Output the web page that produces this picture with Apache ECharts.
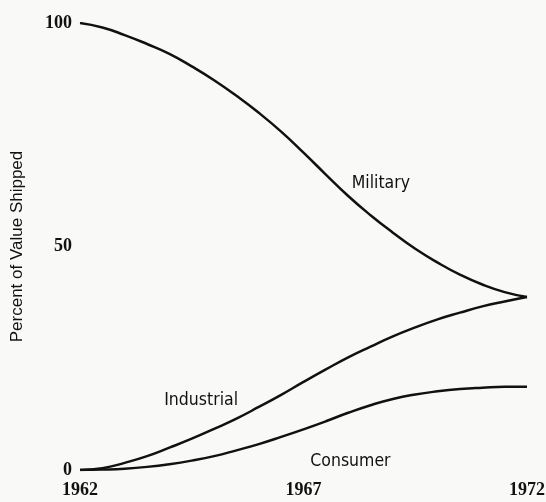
<!DOCTYPE html>
<html>
<head>
<meta charset="utf-8">
<script src="https://cdn.jsdelivr.net/npm/echarts@6/dist/echarts.min.js"></script>
<style>html,body{margin:0;padding:0;background:#f9f9f8;}#c{width:546px;height:502px;}</style>
</head>
<body>
<div id="c"></div>
<script>
const years = [1962, 1962.5, 1963, 1963.5, 1964, 1964.5, 1965, 1965.5, 1966, 1966.5, 1967,
               1967.5, 1968, 1968.5, 1969, 1969.5, 1970, 1970.5, 1971, 1971.5, 1972];
const military = [100, 99.0, 97.3, 95.3, 93.1, 90.3, 87.2, 83.7, 79.9, 75.7, 71.0,
                  66.1, 61.3, 57.0, 53.1, 49.5, 46.4, 43.7, 41.5, 39.8, 38.7];
const industrial = [0, 0.4, 1.6, 3.1, 5.0, 7.0, 9.2, 11.5, 14.1, 16.8, 19.7,
                    22.5, 25.2, 27.6, 29.9, 31.9, 33.7, 35.2, 36.6, 37.7, 38.7];
const consumer = [0, 0.1, 0.3, 0.7, 1.3, 2.1, 3.1, 4.4, 5.8, 7.4, 9.1,
                  10.9, 12.8, 14.5, 15.9, 16.9, 17.6, 18.1, 18.4, 18.6, 18.6];
const xTicks = [1962, 1967, 1972];
const yTicks = [0, 50, 100];
const seriesNames = ['Military', 'Industrial', 'Consumer'];
const labelPos = [[1968.73, 64.2], [1964.71, 15.5], [1968.05, 0]];
const labelOffsets = [[0, 0], [0, 0], [0, -9]];
const yTitle = 'Percent of Value Shipped';

const values = [military, industrial, consumer];
const chart = echarts.init(document.getElementById('c'), null, {renderer: 'canvas'});
const tickFont = {fontFamily: 'Liberation Serif, serif', fontWeight: 'bold', fontSize: 18, color: '#111'};
const sansFont = 'Liberation Sans Narrow, DejaVu Sans Condensed, sans-serif';
chart.setOption({
  backgroundColor: '#f9f9f8',
  animation: false,
  grid: {left: 80, right: 19, top: 23, bottom: 32, outerBoundsMode: 'none', containLabel: false},
  xAxis: {
    type: 'value', min: 1962, max: 1972, interval: 5,
    axisLine: {show: false}, axisTick: {show: false}, splitLine: {show: false},
    axisLabel: Object.assign({margin: 11, formatter: v => xTicks.includes(v) ? String(v) : ''}, tickFont)
  },
  yAxis: {
    type: 'value', min: 0, max: 100, interval: 50,
    axisLine: {show: false}, axisTick: {show: false}, splitLine: {show: false},
    axisLabel: Object.assign({margin: 8, formatter: v => yTicks.includes(v) ? String(v) : ''}, tickFont),
    name: yTitle, nameLocation: 'middle', nameGap: 54, nameRotate: 90,
    nameTextStyle: {fontFamily: 'Liberation Sans, sans-serif', fontSize: 17, color: '#111'}
  },
  series: seriesNames.map((n, i) => ({
    name: n, type: 'line', smooth: 0.5, symbol: 'none',
    data: years.map((y, j) => [y, values[i][j]]),
    lineStyle: {color: '#111', width: 2.5},
    markPoint: {
      symbol: 'circle', symbolSize: 0, silent: true,
      data: [{coord: labelPos[i], name: n}],
      label: {show: true, position: 'inside', formatter: n, offset: labelOffsets[i],
        fontFamily: sansFont, fontSize: 17.5, color: '#111'}
    }
  }))
});
</script>
</body>
</html>
